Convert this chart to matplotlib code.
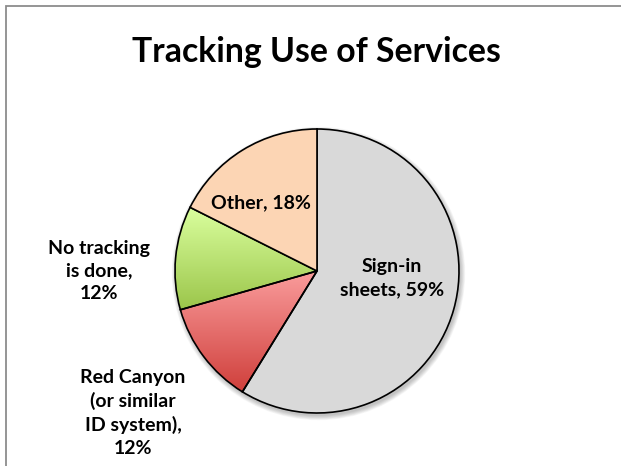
import numpy as np
import matplotlib
matplotlib.use("Agg")
import matplotlib.pyplot as plt
from matplotlib.patches import Circle, Rectangle
from matplotlib.colors import LinearSegmentedColormap

# ---- data ----
categories = ["Sign-in\nsheets", "Red Canyon\n(or similar\nID system)", "No tracking\nis done", "Other"]
values = [58.8, 11.8, 11.8, 17.6]
label_seps = [", ", ",\n", ",\n", ", "]
title = "Tracking Use of Services"

# ---- styles / layout ----
W, H = 621, 466
cx, cy, R = 317, H - 271, 142
flat_colors = ["#D9D9D9", None, None, "#FCD5B4"]
gradients = [None, ("#FA9C9C", "#CF3F3B"), ("#DAFF9E", "#9BC54A"), None]
label_pos = [(0.53, -0.05), (-1.296, -1.0), (-1.535, 0.0), (-0.394, 0.479)]

plt.rcParams['font.family'] = ['Lato', 'DejaVu Sans']
fig = plt.figure(figsize=(W / 100, H / 100), dpi=100)
ax = fig.add_axes([0, 0, 1, 1])

# frame
fig.patches.append(Rectangle((6 / W, -0.5), 2, 1 - 6 / H + 0.5, transform=fig.transFigure,
                             fill=False, edgecolor="#8C8C8C", linewidth=1.3, zorder=0))

# shadow
for i in range(7):
    ax.add_patch(Circle((cx + 1.5, cy - 2.5), R + 0.5 + i * 0.7, color='black',
                        alpha=0.035, lw=0, zorder=1))

wedges, _ = ax.pie(values, center=(cx, cy), radius=R, startangle=90, counterclock=False,
                   colors=[c if c else "white" for c in flat_colors],
                   wedgeprops=dict(edgecolor='black', linewidth=1.2, zorder=3),
                   frame=True)
ax.set_xlim(0, W)
ax.set_ylim(0, H)
ax.set_aspect('equal')
ax.axis('off')

for w, g in zip(wedges, gradients):
    if g is None:
        continue
    w.set_facecolor('none')
    verts = w.get_transform().transform(w.get_path().vertices)
    verts = ax.transData.inverted().transform(verts)
    x0, x1 = verts[:, 0].min(), verts[:, 0].max()
    y0, y1 = verts[:, 1].min(), verts[:, 1].max()
    cmap = LinearSegmentedColormap.from_list("g", [g[1], g[0]])
    grad = np.linspace(0, 1, 256).reshape(-1, 1)
    im = ax.imshow(grad, extent=(x0, x1, y0, y1), origin='lower', cmap=cmap,
                   aspect='auto', zorder=2, interpolation='bilinear')
    im.set_clip_path(w)
ax.set_xlim(0, W)
ax.set_ylim(0, H)

total = sum(values)
for cat, v, sep, (dx, dy) in zip(categories, values, label_seps, label_pos):
    txt = f"{cat}{sep}{round(v / total * 100):.0f}%"
    ax.text(cx + dx * R, cy + dy * R, txt, ha='center', va='center', fontsize=14,
            fontweight='bold', linespacing=1.4, zorder=5)

ax.text(316, H - 52, title, ha='center', va='center', fontsize=24.3, fontweight='bold')

fig.savefig("out.png", dpi=100)
